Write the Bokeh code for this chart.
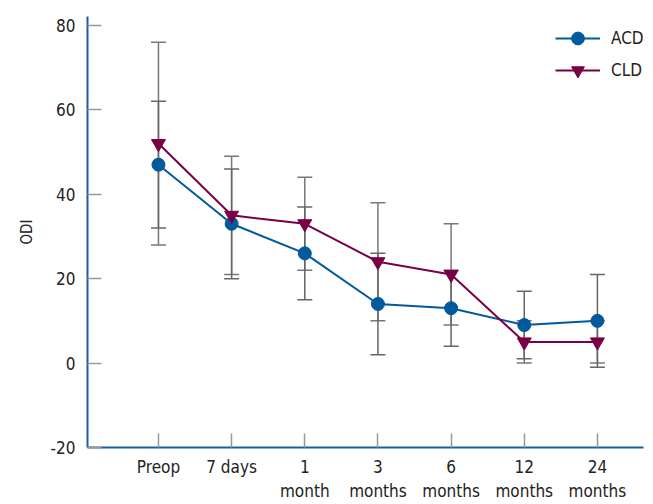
from bokeh.plotting import figure
from bokeh.models import ColumnDataSource, Whisker, TeeHead, FixedTicker, Legend, LegendItem, Range1d
from bokeh.embed import file_html
from bokeh.resources import INLINE

categories = ["Preop", "7 days", "1\nmonth", "3\nmonths", "6\nmonths", "12\nmonths", "24\nmonths"]
acd_mean = [47, 33, 26, 14, 13, 9, 10]
acd_sd = [15, 13, 11, 12, 9, 8, 11]
cld_mean = [52, 35, 33, 24, 21, 5, 5]
cld_sd = [24, 14, 11, 14, 12, 5, 5]
y_ticks = [-20, 0, 20, 40, 60, 80]
y_tick_labels = ["-20", "0", "20", "40", "60", "80"]

FONT = "DejaVu Sans Condensed"
BLUE = "#005a9c"
MAROON = "#7a0045"
AXIS_BLUE = "#1b5e9e"

x = list(range(len(categories)))

p = figure(frame_width=556, frame_height=431, output_backend="svg", toolbar_location=None,
           x_range=Range1d(-0.97, 6.63), y_range=Range1d(-20, 82.1),
           min_border_left=87, min_border_right=2, min_border_top=16, min_border_bottom=40)
p.outline_line_color = None
p.xgrid.grid_line_color = None
p.ygrid.grid_line_color = None

def src(mean, sd):
    return ColumnDataSource(dict(x=x, y=mean,
                                 upper=[m + s for m, s in zip(mean, sd)],
                                 lower=[m - s for m, s in zip(mean, sd)]))

s_acd = src(acd_mean, acd_sd)
s_cld = src(cld_mean, cld_sd)

for s, col in ((s_cld, "#777777"), (s_acd, "#666666")):
    w = Whisker(source=s, base="x", upper="upper", lower="lower",
                line_color=col, line_width=1.5,
                upper_head=TeeHead(size=15, line_color=col, line_width=1.5),
                lower_head=TeeHead(size=15, line_color=col, line_width=1.5))
    p.add_layout(w)

l1 = p.line("x", "y", source=s_acd, line_color=BLUE, line_width=2)
m1 = p.scatter("x", "y", source=s_acd, marker="circle", size=13, fill_color=BLUE, line_color=BLUE)
l2 = p.line("x", "y", source=s_cld, line_color=MAROON, line_width=2)
m2 = p.scatter("x", "y", source=s_cld, marker="inverted_triangle", size=14, fill_color=MAROON, line_color=MAROON)

legend = Legend(items=[LegendItem(label="ACD", renderers=[l1, m1]),
                       LegendItem(label="CLD", renderers=[l2, m2])],
                location=(468, 361), border_line_color=None, background_fill_alpha=0,
                padding=0, margin=0, spacing=0, glyph_width=45, glyph_height=32,
                label_height=32, label_standoff=11,
                label_text_font=FONT, label_text_font_size="17px", label_text_color="#222222")
p.add_layout(legend)

for ax in (p.xaxis[0], p.yaxis[0]):
    ax.axis_line_color = AXIS_BLUE
    ax.axis_line_width = 2
    ax.major_tick_in = 14
    ax.major_tick_out = 0
    ax.major_tick_line_color = "#999999"
    ax.major_tick_line_width = 1.5
    ax.minor_tick_line_color = None
    ax.major_label_text_font = FONT
    ax.major_label_text_font_size = "17px"
    ax.major_label_text_color = "#222222"

p.xaxis.ticker = FixedTicker(ticks=x)
p.xaxis.major_label_overrides = {i: c for i, c in enumerate(categories)}
p.xaxis.major_label_standoff = 9
p.yaxis.ticker = FixedTicker(ticks=y_ticks)
p.yaxis.major_label_overrides = dict(zip(y_ticks, y_tick_labels))
p.yaxis.major_label_standoff = 12
p.yaxis.axis_label = "ODI"
p.yaxis.axis_label_text_font = FONT
p.yaxis.axis_label_text_font_size = "15px"
p.yaxis.axis_label_text_font_style = "normal"
p.yaxis.axis_label_text_color = "#222222"
p.yaxis.axis_label_standoff = 12

open("out.html", "w").write(file_html(p, INLINE))
